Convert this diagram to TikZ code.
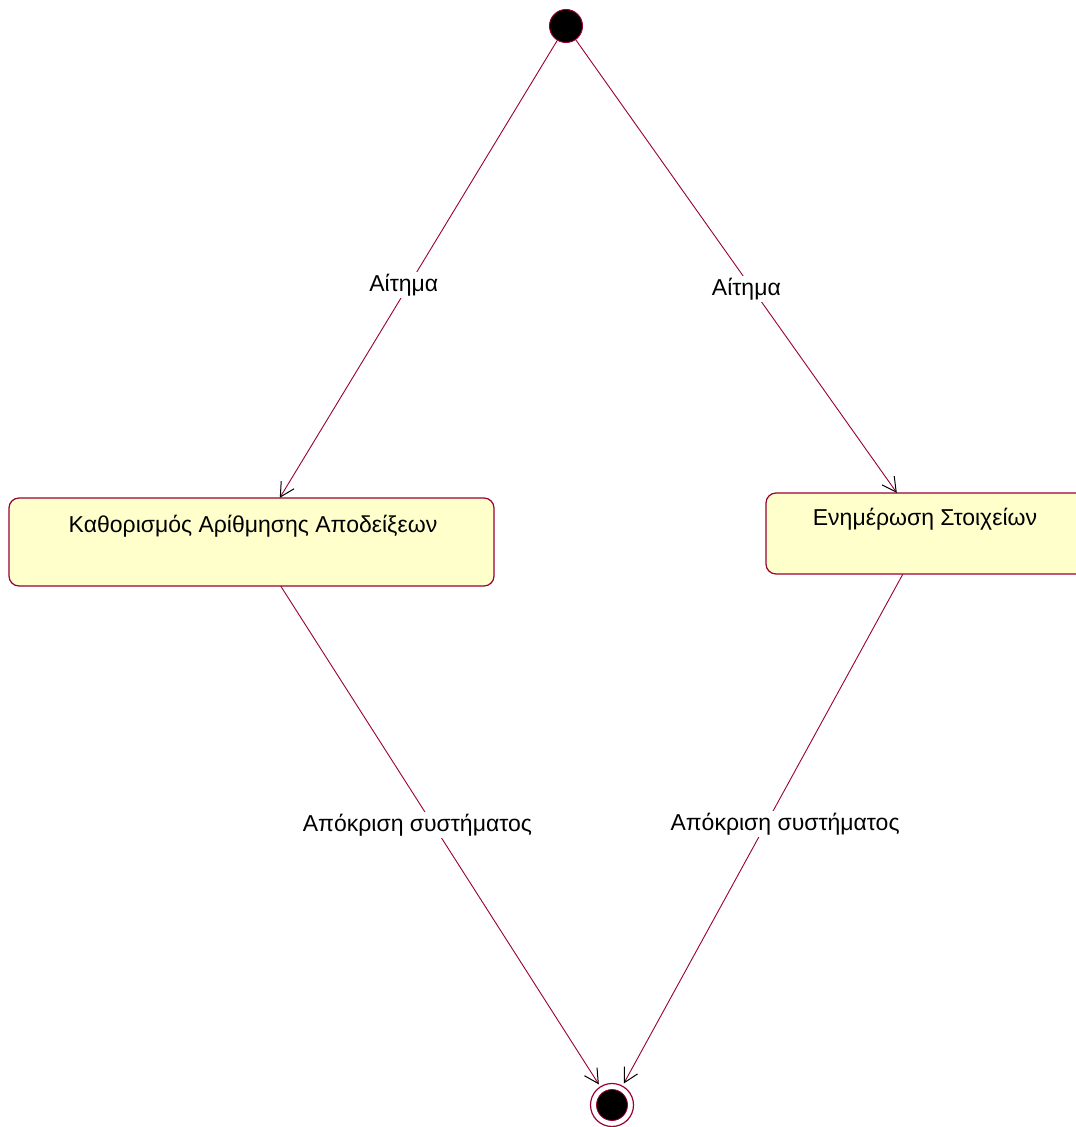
\documentclass[tikz,border=0pt]{standalone}
\usepackage{fontspec}
\setmainfont{Liberation Sans}
\usetikzlibrary{arrows.meta,calc}
\definecolor{umlred}{RGB}{153,0,51}
\definecolor{umlfill}{RGB}{255,255,204}
\tikzset{
  statebox/.style={draw=umlred, fill=umlfill, line width=1.2pt, rounded corners=10pt},
  flow/.style={draw=umlred, line width=0.9pt,
    -{Straight Barb[length=14pt,width=15pt,color=black,line width=1pt]}},
  lbl/.style={fill=white, inner sep=2pt, font=\fontsize{23}{25}\selectfont, text=black},
  boxtext/.style={font=\fontsize{23}{25}\selectfont, text=black}
}
\begin{document}
\begin{tikzpicture}[x=1pt,y=-1pt]
  \useasboundingbox (0,0) rectangle (1076,1127);
  \clip (0,0) rectangle (1076,1127);

  % initial and final pseudo-states
  \node[circle, fill=black, draw=umlred, line width=1pt, minimum size=33pt, inner sep=0pt] (init) at (566,26) {};
  \node[circle, fill=white, draw=umlred, line width=1.2pt, minimum size=43pt, inner sep=0pt, outer sep=3pt] (fin) at (612,1105) {};
  \node[circle, fill=black, draw=umlred, line width=0.8pt, minimum size=31pt, inner sep=0pt] (finin) at (612,1105) {};

  % states
  \path[statebox] (9,498) rectangle (494,586);
  \node[minimum width=485pt, minimum height=88pt, inner sep=0pt] (L) at (251.5,542) {};
  \node[boxtext] (Lt) at (253,526) {Καθορισμός Αρίθμησης Αποδείξεων};

  \path[statebox] (766,493) rectangle (1100,574);
  \node[minimum width=334pt, minimum height=81pt, inner sep=0pt] (R) at (933,533.5) {};
  \node[boxtext] (Rt) at (925,519) {Ενημέρωση Στοιχείων};

  % transitions
  \coordinate (Lin)  at ($(L.north west)+(271,0)$);
  \coordinate (Lout) at ($(L.south west)+(272,0)$);
  \coordinate (Rin)  at ($(R.north west)+(131,0)$);
  \coordinate (Rout) at ($(R.south west)+(137,0)$);

  \draw[flow] (init) -- (Lin) node[lbl, pos=0.535, xshift=-5pt] (a1) {Αίτημα};
  \draw[flow] (init) -- (Rin) node[lbl, pos=0.55, xshift=-6pt] (a2) {Αίτημα};
  \draw[flow] (Lout) -- (fin) node[lbl, pos=0.48, xshift=-16pt] (r1) {Απόκριση συστήματος};
  \draw[flow] (Rout) -- (fin) node[lbl, pos=0.49, xshift=19pt] (r2) {Απόκριση συστήματος};
\end{tikzpicture}
\end{document}
